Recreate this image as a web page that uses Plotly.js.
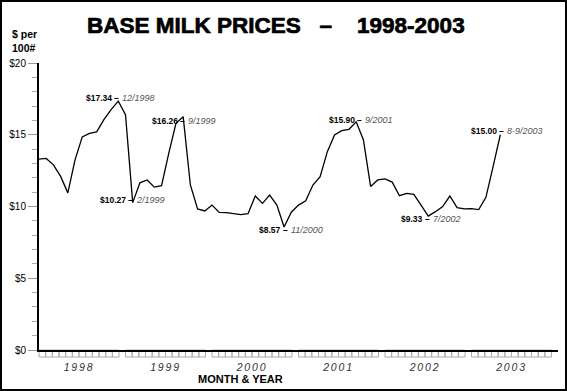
<!DOCTYPE html>
<html>
<head>
<meta charset="utf-8">
<script src="https://cdn.plot.ly/plotly-3.0.1.min.js"></script>
<style>
  html, body { margin: 0; padding: 0; background: #fff; }
  #plot { width: 567px; height: 391px; outline: 2px solid #000; outline-offset: -2px; }
  #plot .xtick text { letter-spacing: 1.8px; }
  #plot .gtitle { stroke: #000; stroke-width: 0.7px; }
</style>
</head>
<body>
<div id="plot"></div>
<script>
// ---- data ----
const years = ['1998', '1999', '2000', '2001', '2002', '2003'];
// monthly base milk price, $ per 100 lb, starting Jan 1998
const prices = [
  13.30, 13.35, 12.90, 12.10, 10.95, 13.25, 14.85, 15.10, 15.20, 16.05, 16.75, 17.34,
  16.40, 10.27, 11.65, 11.85, 11.35, 11.45, 13.70, 15.80, 16.26, 11.50, 9.83, 9.69,
  10.10, 9.59, 9.57, 9.48, 9.43, 9.50, 10.73, 10.22, 10.80, 10.10, 8.57, 9.60,
  10.10, 10.40, 11.50, 12.08, 13.82, 14.98, 15.28, 15.38, 15.90, 14.65, 11.40, 11.85,
  11.92, 11.70, 10.75, 10.92, 10.85, 10.10, 9.33, 9.64, 9.99, 10.73, 9.92, 9.83,
  9.85, 9.78, 10.64, 12.80, 15.00
];
const labelIdx = [11, 13, 20, 34, 44, 54, 64];
const labelDates = ['12/1998', '2/1999', '9/1999', '11/2000', '9/2001', '7/2002', '8-9/2003'];

// ---- styling / placement ----
const labelDashDx = [-1.5, -2.5, -1, 1, 3.5, -0.5, 1];
const labelDy = [-3, -2.7, 4, 3.3, -2, 3.3, -4];
const FONT = 'Liberation Sans, Arial, Helvetica, sans-serif';
const L = 39, R = 9, T = 63, B = 41, W = 567, H = 391;
const PW = W - L - R, PH = H - T - B;
const XMAX = 72;
const px2paperX = p => (p - L) / PW;
const px2paperY = p => (H - B - p) / PH;

const months = prices.map((_, i) => i);

const annotations = [];
labelIdx.forEach((idx, k) => {
  const base = { x: months[idx], y: prices[idx], xref: 'x', yref: 'y', showarrow: false,
                 yanchor: 'middle', borderpad: 0, borderwidth: 0, yshift: -labelDy[k] };
  annotations.push(Object.assign({}, base, {
    text: '<b>$' + prices[idx].toFixed(2) + '</b>', xanchor: 'right',
    xshift: labelDashDx[k] - 4.5, font: { family: FONT, size: 8.5, color: '#000' }
  }));
  annotations.push(Object.assign({}, base, {
    text: '<b>–</b>', xanchor: 'center',
    xshift: labelDashDx[k], font: { family: FONT, size: 8.5, color: '#000' }
  }));
  annotations.push(Object.assign({}, base, {
    text: labelDates[k], xanchor: 'left',
    xshift: labelDashDx[k] + 5.5, font: { family: FONT, size: 9, color: '#555', style: 'italic' }
  }));
});
annotations.push({
  xref: 'paper', yref: 'paper', x: px2paperX(9.5), y: px2paperY(41), xanchor: 'left', yanchor: 'middle',
  showarrow: false, align: 'left', text: '<b>$ per<br>100#</b>',
  font: { family: FONT, size: 10.5, color: '#000' }
});
annotations.push({
  xref: 'paper', yref: 'paper', x: px2paperX(240), y: px2paperY(379), xanchor: 'center', yanchor: 'middle',
  showarrow: false, text: '<b>MONTH &amp; YEAR</b>',
  font: { family: FONT, size: 11, color: '#000' }
});

// month boxes below the axis
const shapes = [];
const groupW = 11.1, boxW = groupW / 12;
years.forEach((y, k) => {
  for (let j = 0; j < 12; j++) {
    const x0 = k * 12 + j * boxW;
    shapes.push({
      type: 'rect', xref: 'paper', yref: 'paper',
      x0: x0 / XMAX, x1: (x0 + boxW) / XMAX,
      y0: -7 / PH, y1: 0,
      line: { color: '#aaa', width: 1 }, fillcolor: 'rgba(0,0,0,0)', layer: 'below'
    });
  }
});

const trace = {
  type: 'scatter', mode: 'lines', x: months, y: prices,
  line: { color: '#000', width: 1.3 }, hoverinfo: 'skip', showlegend: false
};

const layout = {
  width: W, height: H,
  margin: { l: L, r: R, t: T, b: B, pad: 0 },
  paper_bgcolor: 'rgba(0,0,0,0)', plot_bgcolor: 'rgba(0,0,0,0)',
  showlegend: false,
  title: {
    text: 'BASE MILK PRICES\u00a0\u00a0\u00a0–\u00a0\u00a0\u00a0\u00a01998-2003',
    xref: 'container', yref: 'container', x: 87 / W, xanchor: 'left',
    y: 1 - 25 / H, yanchor: 'middle',
    font: { family: FONT, size: 22.5, color: '#000', weight: 'bold' }
  },
  xaxis: {
    range: [0, XMAX], showgrid: false, zeroline: false,
    showline: true, linecolor: '#000', linewidth: 2,
    ticks: '', tickmode: 'array',
    tickvals: years.map((y, k) => k * 12 + groupW / 2),
    ticktext: years,
    ticklabelstandoff: 6,
    tickfont: { family: FONT, size: 10.5, color: '#333', style: 'italic' },
    fixedrange: true
  },
  yaxis: {
    range: [0, 20], showgrid: false, zeroline: false,
    showline: true, linecolor: '#000', linewidth: 2,
    tickmode: 'linear', tick0: 0, dtick: 5, tickprefix: '$',
    ticks: 'outside', ticklen: 9, tickwidth: 1, tickcolor: '#999',
    minor: { dtick: 1, ticks: 'outside', ticklen: 5, tickwidth: 1, tickcolor: '#aaa', showgrid: false },
    tickfont: { family: FONT, size: 10, color: '#000' },
    fixedrange: true
  },
  annotations: annotations,
  shapes: shapes
};

Plotly.newPlot('plot', [trace], layout, { displayModeBar: false, staticPlot: true });
</script>
</body>
</html>
